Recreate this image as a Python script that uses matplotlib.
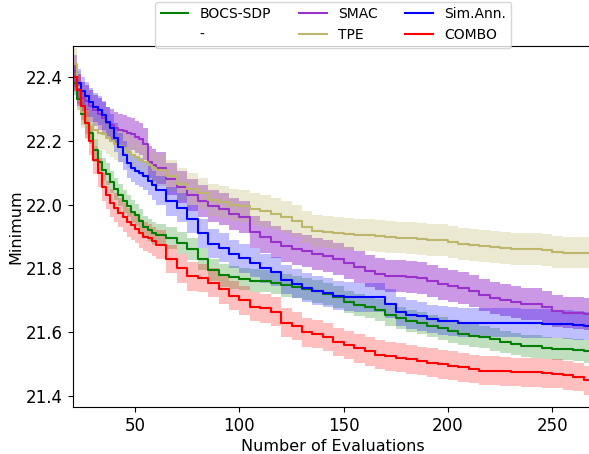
import numpy as np
import matplotlib
matplotlib.use("Agg")
import matplotlib.pyplot as plt

evals = [20, 22, 24, 26, 28, 30, 32, 34, 36, 38, 40, 42, 44, 46, 48, 50, 52, 54, 56, 58, 60,
         65, 70, 75, 80, 85, 90, 95, 100, 105, 110, 115, 120, 125, 130, 135, 140, 145,
         150, 155, 160, 165, 170, 175, 180, 185, 190, 195, 200, 205, 210, 215, 220, 225,
         230, 235, 240, 245, 250, 255, 260, 265, 270]

bocs_sdp = [22.38, 22.33, 22.285, 22.255, 22.225, 22.17, 22.135, 22.11, 22.095, 22.07, 22.05,
            22.03, 22.01, 21.995, 21.978, 21.968, 21.95, 21.93, 21.92, 21.91, 21.905,
            21.895, 21.88, 21.86, 21.83, 21.795, 21.778, 21.772, 21.768, 21.762, 21.76, 21.755,
            21.747, 21.742, 21.735, 21.728, 21.72, 21.71, 21.695, 21.685, 21.68, 21.67,
            21.655, 21.645, 21.635, 21.63, 21.62, 21.612, 21.603, 21.595, 21.59, 21.585,
            21.578, 21.57, 21.563, 21.558, 21.556, 21.55, 21.547, 21.547, 21.545, 21.54, 21.54]

smac = [22.42, 22.36, 22.335, 22.325, 22.31, 22.295, 22.285, 22.27, 22.255, 22.25, 22.24,
        22.235, 22.23, 22.225, 22.22, 22.212, 22.205, 22.19, 22.135, 22.125, 22.115,
        22.08, 22.055, 22.03, 22.012, 21.997, 21.985, 21.972, 21.96, 21.915, 21.90, 21.883,
        21.87, 21.86, 21.855, 21.845, 21.838, 21.83, 21.818, 21.805, 21.792, 21.782,
        21.775, 21.775, 21.773, 21.77, 21.76, 21.752, 21.745, 21.738, 21.73, 21.718,
        21.708, 21.70, 21.695, 21.69, 21.688, 21.68, 21.667, 21.662, 21.66, 21.657, 21.655]

tpe = [22.44, 22.37, 22.29, 22.255, 22.245, 22.235, 22.225, 22.22, 22.21, 22.20, 22.19,
       22.185, 22.178, 22.165, 22.155, 22.148, 22.14, 22.135, 22.125, 22.115, 22.108,
       22.09, 22.065, 22.05, 22.035, 22.015, 22.008, 22.0, 21.995, 21.985, 21.98, 21.972,
       21.962, 21.95, 21.93, 21.918, 21.913, 21.91, 21.908, 21.906, 21.905, 21.903,
       21.9, 21.897, 21.895, 21.892, 21.89, 21.888, 21.884, 21.878, 21.874, 21.87,
       21.866, 21.864, 21.862, 21.86, 21.86, 21.857, 21.853, 21.85, 21.85, 21.85, 21.85]

sim_ann = [22.40, 22.38, 22.355, 22.34, 22.32, 22.305, 22.295, 22.28, 22.26, 22.24, 22.21,
           22.18, 22.155, 22.13, 22.115, 22.105, 22.1, 22.09, 22.075, 22.06, 22.045,
           22.01, 21.99, 21.955, 21.91, 21.878, 21.865, 21.845, 21.832, 21.818, 21.80, 21.79,
           21.765, 21.752, 21.74, 21.73, 21.724, 21.715, 21.712, 21.71, 21.71, 21.71,
           21.69, 21.665, 21.655, 21.65, 21.642, 21.637, 21.634, 21.63, 21.63, 21.63,
           21.63, 21.63, 21.63, 21.628, 21.628, 21.627, 21.626, 21.625, 21.622, 21.62, 21.62]

combo = [22.40, 22.36, 22.31, 22.255, 22.20, 22.14, 22.10, 22.055, 22.03, 22.005, 21.99,
         21.975, 21.96, 21.945, 21.935, 21.925, 21.91, 21.90, 21.895, 21.885, 21.875,
         21.83, 21.80, 21.775, 21.77, 21.755, 21.735, 21.715, 21.70, 21.68, 21.675, 21.665,
         21.63, 21.62, 21.60, 21.595, 21.585, 21.57, 21.56, 21.55, 21.54, 21.53,
         21.525, 21.52, 21.515, 21.51, 21.505, 21.50, 21.495, 21.49, 21.485, 21.48,
         21.48, 21.478, 21.476, 21.475, 21.475, 21.472, 21.47, 21.465, 21.46, 21.45, 21.45]

# half-width of the shaded band for each method
band = {"BOCS-SDP": 0.035, "SMAC": 0.05, "TPE": 0.05, "Sim.Ann.": 0.045, "COMBO": 0.045}

series = [
    ("BOCS-SDP", bocs_sdp, "green", 0.25),
    ("SMAC", smac, "darkorchid", 0.5),
    ("TPE", tpe, "darkkhaki", 0.3),
    ("Sim.Ann.", sim_ann, "blue", 0.25),
    ("COMBO", combo, "red", 0.25),
]

fig = plt.figure(figsize=(5.89, 4.54), dpi=100)
ax = fig.add_axes([72.5 / 589, 1 - 407 / 454, (594 - 72.5) / 589, (407 - 46) / 454])

x = np.array(evals)
handles = {}
for name, vals, col, a in series:
    v = np.array(vals)
    w = band[name]
    ax.fill_between(x, v - w, v + w, step="post", color=col, alpha=a, lw=0)
    ln, = ax.plot(x, v, drawstyle="steps-post", color=col, lw=1.5, label=name)
    handles[name] = ln

blank, = ax.plot([], [], color="none", label="-")

order = ["BOCS-SDP", "-", "SMAC", "TPE", "Sim.Ann.", "COMBO"]
hs = [handles.get(n, blank) for n in order]
leg = ax.legend(hs, order, loc="lower center", bbox_to_anchor=(0.5, 0.995),
                ncol=3, fontsize=10, borderaxespad=0, frameon=True)
leg.set_zorder(10)

ax.set_xlim(20, 270)
ax.set_ylim(21.366, 22.497)
ax.set_xticks([50, 100, 150, 200, 250])
ax.set_yticks([21.4, 21.6, 21.8, 22.0, 22.2, 22.4])
ax.tick_params(labelsize=12)
ax.set_xlabel("Number of Evaluations", fontsize=11.5, labelpad=3)
ax.set_ylabel("Minimum", fontsize=11.5, labelpad=2)

fig.savefig("out.png", dpi=100)
